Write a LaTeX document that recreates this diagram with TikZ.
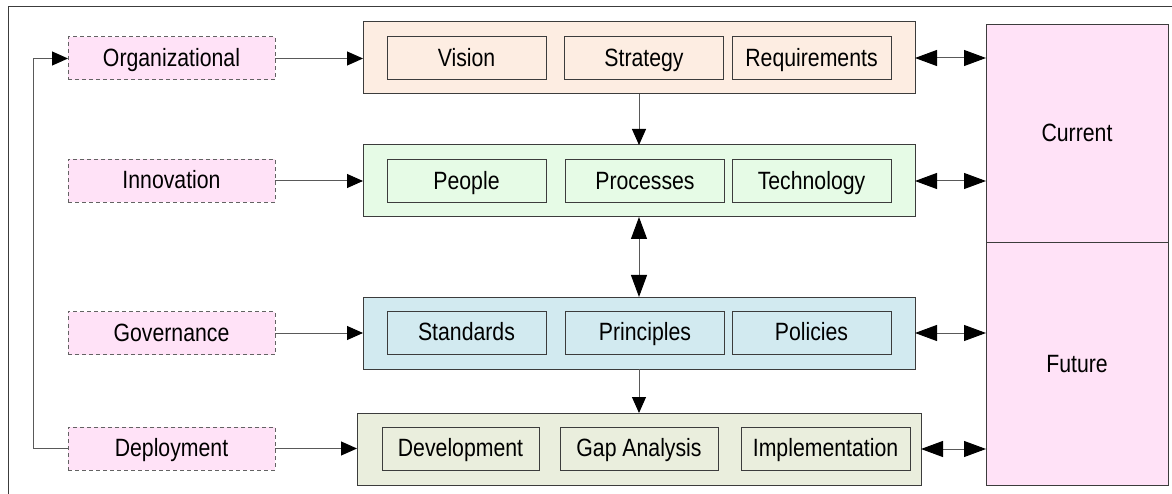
\documentclass[tikz,border=0pt]{standalone}
\usepackage{fontspec}
\setmainfont{Liberation Sans}[FakeStretch=0.85]
\usetikzlibrary{arrows.meta}
\definecolor{peachfill}{RGB}{253,237,226}
\definecolor{greenfill}{RGB}{230,251,230}
\definecolor{bluefill}{RGB}{210,234,240}
\definecolor{olivefill}{RGB}{234,238,221}
\definecolor{pinkfill}{RGB}{255,226,247}
\definecolor{edge}{RGB}{60,60,60}
\tikzset{
  every node/.style={font=\fontsize{25}{30}\selectfont, inner sep=0pt, outer sep=0pt,
                     text height=17pt, text depth=1pt},
  srcbox/.style={draw=edge!80, dash pattern=on 4pt off 3pt, line width=1pt, fill=pinkfill,
                 minimum width=207pt, minimum height=43pt},
  group/.style={draw=edge, line width=1pt, minimum height=72pt},
  item/.style={draw=edge, line width=1pt, minimum height=43pt},
  statebox/.style={draw=edge, line width=1pt, fill=pinkfill, minimum width=182pt},
  flow/.style={draw=black!65, line width=1pt,
               -{Triangle[length=16pt,width=14pt,color=black]}},
  link/.style={draw=black!65, line width=1pt,
               {Triangle[length=22pt,width=16pt,color=black]}-{Triangle[length=22pt,width=16pt,color=black]}},
}
\begin{document}
\begin{tikzpicture}[x=1pt,y=-1pt]
\useasboundingbox (0,0) rectangle (1172,494);

% outer frame (top and left edges)
\draw[edge, line width=1pt] (8,494) -- (8,7) -- (1172,7);

% source boxes on the left
\node[srcbox] (org) at (171.5,58.5) {Organizational};
\node[srcbox] (inn) at (171.5,181) {Innovation};
\node[srcbox] (gov) at (171.5,333) {Governance};
\node[srcbox] (dep) at (171.5,448.5) {Deployment};

% layered groups
\node[group, fill=peachfill, minimum width=552pt] (top) at (639,58) {};
\node[group, fill=greenfill, minimum width=552pt] (mid) at (639,181) {};
\node[group, fill=bluefill, minimum width=552pt] (gvr) at (639,333) {};
\node[group, fill=olivefill, minimum width=564pt] (bot) at (639,449) {};

% items in each group
\node[item, fill=peachfill, minimum width=159pt] (vis) at (466.5,58.5) {Vision};
\node[item, fill=peachfill, minimum width=159pt] (str) at (644,58.5) {Strategy};
\node[item, fill=peachfill, minimum width=159pt] (req) at (811.5,58.5) {Requirements};

\node[item, fill=greenfill, minimum width=159pt] (peo) at (466.5,181.5) {People};
\node[item, fill=greenfill, minimum width=159pt] (pro) at (645,181.5) {Processes};
\node[item, fill=greenfill, minimum width=159pt] (tec) at (811.5,181.5) {Technology};

\node[item, fill=bluefill, minimum width=159pt] (sta) at (466.5,332.5) {Standards};
\node[item, fill=bluefill, minimum width=159pt] (pri) at (645,332.5) {Principles};
\node[item, fill=bluefill, minimum width=159pt] (pol) at (811.5,332.5) {Policies};

\node[item, fill=olivefill, minimum width=157pt] (dev) at (460.5,448.5) {Development};
\node[item, fill=olivefill, minimum width=158pt] (gap) at (639,448.5) {Gap Analysis};
\node[item, fill=olivefill, minimum width=169pt] (imp) at (825.5,448.5) {Implementation};

% current and future states
\node[statebox, minimum height=218pt] (cur) at (1077,134) {Current};
\node[statebox, minimum height=242pt] (fut) at (1077,364) {Future};

% inputs into the groups
\draw[flow] (org.east) -- (top.west |- org.east);
\draw[flow] (inn.east) -- (mid.west |- inn.east);
\draw[flow] (gov.east) -- (gvr.west |- gov.east);
\draw[flow] (dep.east) -- (bot.west |- dep.east);

% feedback from deployment to organizational
\coordinate (fb) at (33,0);
\draw[flow] (dep.west) -- (dep.west -| fb) |- (org.west);

% flow between the groups
\draw[flow] (top.south) -- (mid.north);
\draw[link] (mid.south) -- (gvr.north);
\draw[flow] (gvr.south) -- (bot.north);

% links to the state boxes
\draw[link] (top.east) -- (top.east -| cur.west);
\draw[link] (mid.east) -- (mid.east -| cur.west);
\draw[link] (gvr.east) -- (gvr.east -| fut.west);
\draw[link] (bot.east) -- (bot.east -| fut.west);
\end{tikzpicture}
\end{document}
